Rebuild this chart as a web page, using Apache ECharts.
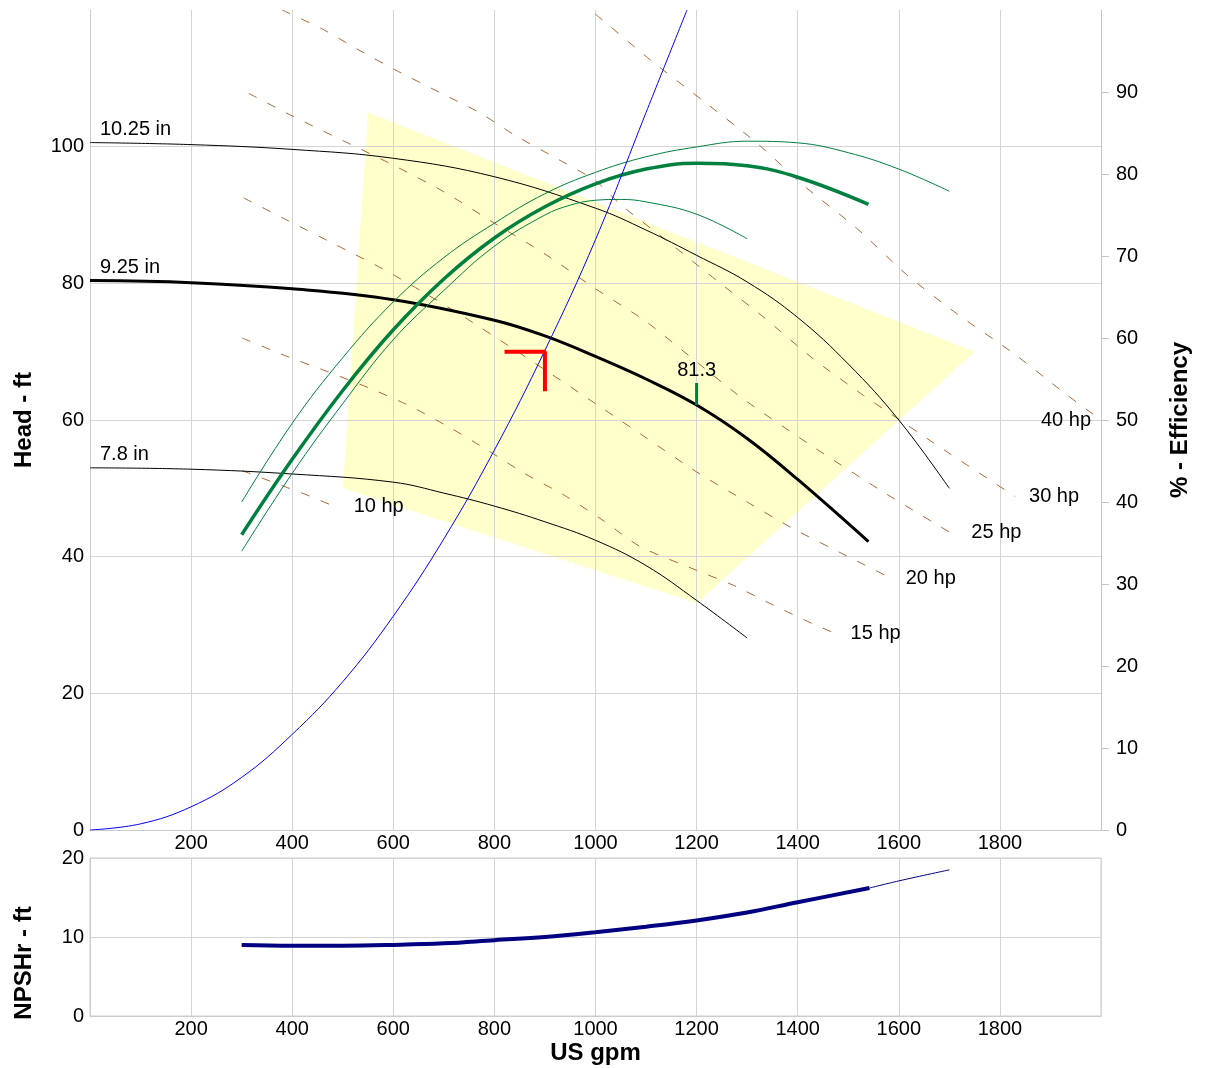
<!DOCTYPE html>
<html><head><meta charset="utf-8">
<script src="https://cdn.jsdelivr.net/npm/echarts@6/dist/echarts.min.js"></script>
<style>html,body{margin:0;padding:0;background:#fff}#c{width:1205px;height:1068px}</style>
</head><body><div id="c"></div><script>
// ---- head curves (US gpm, ft) ----
const head1025 = [[0,100.6],[200,100.3],[400,99.6],[600,98.3],[800,95.6],[1000,91.0],[1100,87.8],[1200,84.1],[1300,80.2],[1400,75.0],[1500,68.2],[1600,60.0],[1700,50.0]];
const head925 = [[0,80.4],[200,80.1],[400,79.2],[600,77.6],[800,74.6],[900,72.3],[1000,69.3],[1100,66.0],[1200,62.2],[1300,57.3],[1400,51.3],[1540,42.2]];
const head78 = [[0,53.0],[200,52.8],[400,52.1],[600,50.9],[700,49.3],[800,47.4],[900,45.1],[1000,42.4],[1100,38.7],[1200,33.6],[1300,28.1]];
const diameterLabels = ['10.25 in','9.25 in','7.8 in'];
// ---- efficiency curves (%) ----
const eff1025 = [[300,40.0],[400,49.6],[500,57.6],[600,64.4],[700,69.8],[800,74.0],[900,77.6],[1000,80.2],[1100,82.1],[1200,83.3],[1300,84.0],[1400,83.8],[1500,82.6],[1600,80.6],[1700,77.9]];
const eff925 = [[300,36.0],[400,45.2],[500,53.6],[600,61.0],[700,67.2],[800,72.2],[900,76.0],[1000,78.8],[1100,80.6],[1200,81.3],[1300,81.0],[1400,79.6],[1540,76.3]];
const eff78 = [[300,34.0],[400,43.5],[500,52.0],[600,59.8],[700,65.8],[800,71.2],[900,75.0],[950,76.2],[1000,76.8],[1050,76.9],[1100,76.6],[1200,75.1],[1300,72.1]];
// ---- system curve ----
const systemCurve = [[0,0],[100,0.9],[200,3.4],[300,7.7],[400,14.0],[500,21.7],[600,31.3],[700,42.6],[800,55.6],[900,70.2],[1000,86.4],[1100,105.0],[1181,120.0]];
// ---- power lines (constant hp) ----
const hp10 = [[301,52.6],[387,50.2],[430,49.0],[482,47.4]];
const hp15 = [[301,72.0],[390,69.3],[469,67.1],[555,64.6],[634,62.0],[714,58.8],[786,55.6],[859,52.2],[938,49.0],[1011,45.5],[1088,41.5],[1200,38.0],[1273,35.8],[1352,32.9],[1438,29.9],[1477,28.7]];
const hp20 = [[304,92.5],[383,89.5],[506,84.9],[582,82.0],[657,78.8],[733,75.4],[850,69.8],[1018,61.5],[1100,57.4],[1200,52.4],[1300,48.0],[1391,44.1],[1500,40.0],[1586,36.8]];
const hp25 = [[314,107.8],[400,104.5],[500,100.9],[600,97.3],[700,93.4],[800,88.8],[900,84.3],[1000,79.2],[1100,74.4],[1200,68.5],[1290,63.2],[1430,56.1],[1575,49.2],[1700,43.6]];
const hp30 = [[380,120.0],[460,117.2],[540,113.8],[610,111.0],[690,108.0],[770,105.0],[840,101.7],[920,98.4],[1000,95.0],[1050,91.5],[1140,86.3],[1240,80.4],[1330,75.2],[1430,69.0],[1530,63.6],[1580,61.1],[1680,56.1],[1830,48.8]];
const hp40 = [[1000,119.4],[1110,112.6],[1213,106.7],[1318,100.6],[1417,94.0],[1516,88.1],[1615,81.3],[1714,75.6],[1826,69.8],[1932,63.7],[2000,60.0]];
const hpLabels = ['10 hp','15 hp','20 hp','25 hp','30 hp','40 hp'];
// ---- preferred operating region ----
const porRegion = [[550,105],[1750,70],[1200,33.2],[500,50]];
// ---- duty point marker and BEP ----
const dutyMarker = [[820,70],[900,70],[900,64.2]];
const bepTick = [[1200,62.2],[1200,65.4]];
const bepLabel = '81.3';
// ---- NPSHr ----
const npshMain = [[300,9.0],[400,8.9],[500,8.9],[600,9.0],[700,9.2],[800,9.6],[900,10.0],[1000,10.6],[1100,11.3],[1200,12.1],[1300,13.1],[1400,14.4],[1542,16.2]];
const npshExt = [[1542,16.2],[1600,17.1],[1700,18.5]];

const FF = 'Liberation Sans, Arial, sans-serif';
const GRID = '#d4d4d4';
const GREEN = '#00803f';
const BROWN = '#a8683a';
const FS = 20;

function ln(data, color, width, extra) {
  return Object.assign({type:'line', data, xAxisIndex:0, yAxisIndex:0, showSymbol:false, symbol:'none',
    smooth:0.4, silent:true, animation:false, lineStyle:{color, width}, z:3}, extra||{});
}
function dashed(data) {
  return ln(data, BROWN, 1, {smooth:0.25, lineStyle:{color:BROWN, width:1, type:[9,12]}, z:2});
}
const hpSets = [hp10,hp15,hp20,hp25,hp30,hp40];
const hpDist = [20,14,14,22,14,10];
const labelItems = [];
const txt = {color:'#000', fontSize:FS, fontFamily:FF, opacity:1};
hpSets.forEach((arr,i)=>{
  const last = arr[arr.length-1];
  const isLeft = i === 5;
  labelItems.push({value:last, label:Object.assign({show:true, formatter:hpLabels[i], position:isLeft?'left':'right', distance:hpDist[i]}, txt)});
});
[head1025, head925, head78].forEach((arr,i)=>{
  labelItems.push({value:arr[0], label:Object.assign({show:true, formatter:diameterLabels[i], position:'top', align:'left', offset:[10,0], distance:3}, txt)});
});
labelItems.push({value:bepTick[1], label:Object.assign({show:true, formatter:bepLabel, position:'top', distance:3}, txt)});

const plain = v => String(v);
const axisLbl = {color:'#000', fontSize:FS, fontFamily:FF, formatter:plain};
const nameStyle = {color:'#000', fontSize:24, fontWeight:'bold', fontFamily:FF};

const option = {
  animation:false,
  backgroundColor:'#fff',
  grid:[
    {left:90, right:104, top:10, height:820},
    {left:90, right:104, top:858, height:158, show:true, borderColor:'#cccccc', borderWidth:1}
  ],
  xAxis:[
    {gridIndex:0, type:'value', min:0, max:2000, interval:200,
      axisLine:{show:true, lineStyle:{color:'#cccccc'}}, axisTick:{show:false},
      axisLabel:Object.assign({showMinLabel:false, showMaxLabel:false, margin:3}, axisLbl),
      splitLine:{show:true, lineStyle:{color:GRID}}},
    {gridIndex:1, type:'value', min:0, max:2000, interval:200,
      name:'US gpm', nameLocation:'middle', nameGap:25, nameTextStyle:nameStyle,
      axisLine:{show:true, lineStyle:{color:'#cccccc'}}, axisTick:{show:false},
      axisLabel:Object.assign({showMinLabel:false, showMaxLabel:false, margin:3}, axisLbl),
      splitLine:{show:true, lineStyle:{color:GRID}}}
  ],
  yAxis:[
    {gridIndex:0, type:'value', min:0, max:120, interval:20, position:'left',
      name:'Head - ft', nameLocation:'middle', nameGap:54, nameRotate:90, nameTextStyle:nameStyle,
      axisLine:{show:true, lineStyle:{color:'#cccccc'}}, axisTick:{show:false},
      axisLabel:Object.assign({showMaxLabel:false, margin:6}, axisLbl),
      splitLine:{show:true, showMaxLine:false, lineStyle:{color:GRID}}},
    {gridIndex:0, type:'value', min:0, max:100, interval:10, position:'right',
      name:'% - Efficiency', nameLocation:'middle', nameGap:67, nameRotate:90, nameTextStyle:nameStyle,
      axisLine:{show:true, lineStyle:{color:'#c4c4c4'}}, axisTick:{show:true, length:8, lineStyle:{color:'#c4c4c4'}},
      axisLabel:Object.assign({showMaxLabel:false, margin:15}, axisLbl),
      splitLine:{show:false}},
    {gridIndex:1, type:'value', min:0, max:20, interval:10, position:'left',
      name:'NPSHr - ft', nameLocation:'middle', nameGap:54, nameRotate:90,
      nameTextStyle:Object.assign({padding:[0,52,0,0]}, nameStyle),
      axisLine:{show:true, lineStyle:{color:'#cccccc'}}, axisTick:{show:false},
      axisLabel:Object.assign({margin:6}, axisLbl),
      splitLine:{show:true, lineStyle:{color:GRID}}}
  ],
  series:[
    {type:'custom', xAxisIndex:0, yAxisIndex:0, silent:true, z:-1, data:[0],
      renderItem:(params, api)=>({type:'polygon', shape:{points:porRegion.map(p=>api.coord(p))}, style:{fill:'#ffffcc'}})},
    dashed(hp10), dashed(hp15), dashed(hp20), dashed(hp25), dashed(hp30), dashed(hp40),
    ln(head1025, '#000', 1),
    ln(head925, '#000', 3),
    ln(head78, '#000', 1),
    ln(eff1025, GREEN, 1, {yAxisIndex:1}),
    ln(eff925, GREEN, 3.5, {yAxisIndex:1}),
    ln(eff78, GREEN, 1, {yAxisIndex:1}),
    ln(systemCurve, '#0000ff', 1),
    ln(dutyMarker, '#ff0000', 4, {smooth:false, z:5}),
    ln(bepTick, GREEN, 3, {smooth:false, z:5}),
    ln(npshMain, '#000080', 4, {xAxisIndex:1, yAxisIndex:2}),
    ln(npshExt, '#000080', 1, {xAxisIndex:1, yAxisIndex:2}),
    {type:'scatter', xAxisIndex:0, yAxisIndex:0, symbolSize:0, silent:true, z:6,
      itemStyle:{color:'#000', opacity:1},
      label:Object.assign({}, txt),
      data:labelItems}
  ]
};
const chart = echarts.init(document.getElementById('c'), null, {renderer:'canvas'});
chart.setOption(option);
</script></body></html>
